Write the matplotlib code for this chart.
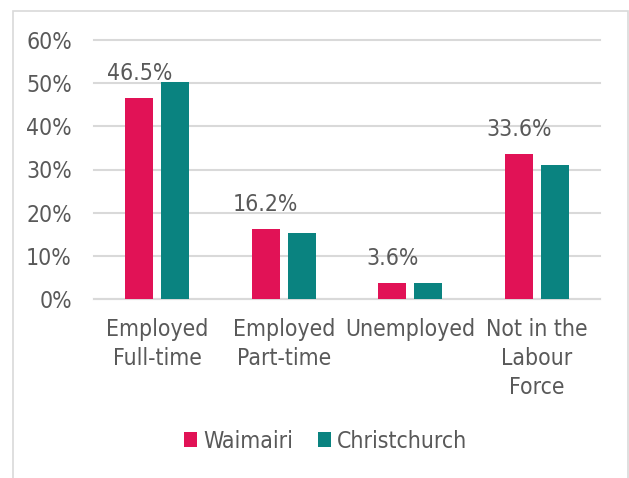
import matplotlib

matplotlib.use("Agg")
import matplotlib.pyplot as plt
import numpy as np
from matplotlib.patches import Rectangle

categories = ["Employed\nFull-time", "Employed\nPart-time", "Unemployed", "Not in the\nLabour\nForce"]
waimairi = [46.5, 16.2, 3.6, 33.6]
christchurch = [50.2, 15.2, 3.7, 31.0]
yticks = [0, 10, 20, 30, 40, 50, 60]

PINK = "#E11256"
TEAL = "#0A8380"
GREY = "#595959"
GRID = "#D9D9D9"
FS = 16.5

plt.rcParams["font.family"] = ["DejaVu Sans"]
plt.rcParams["font.stretch"] = "condensed"

fig = plt.figure(figsize=(6.29, 4.78), dpi=100)
fig.patches.append(Rectangle((13 / 629, -0.05), 615 / 629, 1.05 - 11 / 478,
                             transform=fig.transFigure, fill=False,
                             edgecolor=GRID, lw=1.2))
ax = fig.add_axes([94 / 629, 1 - 299 / 478, 506 / 629, 259 / 478])

x = np.arange(len(categories))
w = 0.222
off = 0.1423
ax.bar(x - off, waimairi, w, color=PINK, label="Waimairi", zorder=3)
ax.bar(x + off, christchurch, w, color=TEAL, label="Christchurch", zorder=3)

for xi, v in zip(x - off, waimairi):
    ax.annotate(f"{v:.1f}%", (xi, v), xytext=(0, 13), textcoords="offset points",
                ha="center", va="baseline", fontsize=FS, color=GREY)

ax.set_xlim(-0.5, len(categories) - 0.5)
ax.set_ylim(0, 60)
ax.set_yticks(yticks)
ax.set_yticklabels([f"{t}%" for t in yticks])
ax.set_xticks(x)
ax.set_xticklabels(categories, linespacing=1.33)
ax.tick_params(axis="both", length=0, labelsize=FS, labelcolor=GREY)
ax.tick_params(axis="y", pad=16)
ax.tick_params(axis="x", pad=14)
ax.yaxis.grid(True, color=GRID, lw=1.5, zorder=0)
for gl in ax.get_ygridlines():
    gl.set_clip_on(False)
for s in ["top", "right", "left"]:
    ax.spines[s].set_visible(False)
ax.spines["bottom"].set_color(GRID)
ax.spines["bottom"].set_linewidth(1.5)

fig.legend(loc="center", bbox_to_anchor=(326 / 629, 1 - 441 / 478), ncol=2,
           frameon=False, fontsize=FS, labelcolor=GREY,
           handlelength=0.57, handleheight=0.61, handletextpad=0.26,
           columnspacing=1.09)

fig.savefig("out.png", dpi=100)
